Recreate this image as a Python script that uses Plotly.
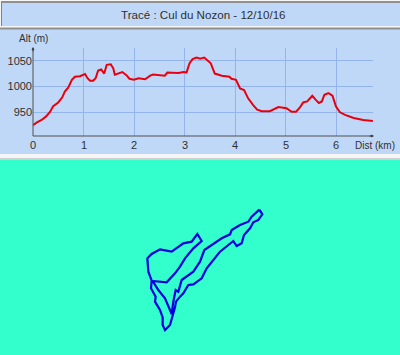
import plotly.graph_objects as go

W, H = 400, 355
dist_km = [0,.07,.17,.26,.34,.40,.50,.58,.63,.70,.77,.83,.93,1.03,1.08,1.13,1.19,1.24,1.29,1.35,1.41,1.46,1.54,1.59,1.62,1.69,1.77,1.85,1.91,2.0,2.09,2.22,2.28,2.32,2.38,2.61,2.66,2.88,2.98,3.04,3.10,3.16,3.24,3.31,3.39,3.45,3.52,3.60,3.74,3.89,3.93,4.02,4.10,4.18,4.26,4.36,4.44,4.53,4.69,4.86,5.02,5.12,5.21,5.29,5.35,5.43,5.53,5.60,5.66,5.72,5.77,5.85,5.93,6.0,6.08,6.18,6.35,6.54,6.73]
alt_m = [925,930,935,942,951,962,969,979,990,998,1013,1019,1020,1024,1016,1011,1011,1016,1031,1033,1025,1042,1043,1035,1023,1025,1028,1022,1015,1013,1016,1014,1019,1021,1023,1021,1027,1026,1028,1027,1045,1053,1056,1054,1056,1050,1045,1025,1021,1019,1015,1013,996,993,977,964,955,952,952,960,958,951,951,960,969,971,982,974,968,971,984,987,982,961,950,945,939,935,933]
track_x = [388,397,385,370,360,342,335,320,310,290,270,250,230,215,190,175,160,150,138,135,127,120,105,98,98,90,75,77,63,65,55,52,65,90,125,160,185,202,215,190,165,150,135,110,68,85,105,120,125,130,137,145,155,190,210,223,245,275,300,305,330,355,365,388]
track_y = [29,43,60,67,85,105,130,138,123,140,155,180,205,235,253,255,280,290,305,322,352,375,390,375,352,330,305,290,265,242,215,175,162,148,155,130,125,102,123,145,175,200,220,247,243,270,295,330,342,305,270,275,240,215,185,150,135,115,103,90,75,65,50,29]
title = "Tracé : Cul du Nozon - 12/10/16"
x_ticks = [0,1,2,3,4,5,6]
y_ticks = [950,1000,1050]

def py(v):
    return 1 - v / H
def px(v):
    return v / W
def rect(x0, y0, x1, y1, fill):
    return dict(type="rect", xref="paper", yref="paper", x0=px(x0), x1=px(x1), y0=py(y1), y1=py(y0),
                fillcolor=fill, line=dict(width=0), layer="below")
def seg(x0, y0, x1, y1, color, width=1):
    return dict(type="line", xref="paper", yref="paper", x0=px(x0), x1=px(x1), y0=py(y0), y1=py(y1), line=dict(color=color, width=width))

fig = go.Figure()
fig.add_trace(go.Scatter(x=dist_km, y=alt_m, mode="lines", line=dict(color="#e8000c", width=2), xaxis="x", yaxis="y", hoverinfo="skip"))
fig.add_trace(go.Scatter(x=track_x, y=track_y, mode="lines", line=dict(color="#0000e0", width=2.2), xaxis="x2", yaxis="y2", hoverinfo="skip"))

font = dict(family="Liberation Sans, Arial, sans-serif", size=11, color="#303030")
small = dict(family=font["family"], size=10, color="#303030")
def arrow(x, y, ax, ay):
    return dict(text="", xref="paper", yref="paper", x=px(x), y=py(y), ax=ax, ay=ay, showarrow=True,
                arrowhead=2, arrowsize=0.6, arrowwidth=1, arrowcolor="#404040")
fig.update_layout(
    width=W, height=H, margin=dict(l=0, r=0, t=0, b=0), autosize=False, showlegend=False,
    paper_bgcolor="#f6f6f6", plot_bgcolor="rgba(0,0,0,0)", font=font,
    xaxis=dict(domain=[px(33), px(373)], range=[0, 340/50.5], tickvals=x_ticks[1:], ticks="", showgrid=True,
               gridcolor="#94b4ec", gridwidth=1, zeroline=False, showline=False, showticklabels=False, anchor="y"),
    yaxis=dict(domain=[py(136), py(48)], range=[904, 1074.6], tickvals=y_ticks, ticks="", showgrid=True,
               gridcolor="#94b4ec", gridwidth=1, zeroline=False, showline=False, tickfont=font, anchor="x"),
    xaxis2=dict(domain=[px(130), px(270)], range=[0,420], visible=False, anchor="y2"),
    yaxis2=dict(domain=[py(340), py(200)], range=[420,0], visible=False, anchor="x2"),
    shapes=[
        rect(1, 3, 400, 26, "#c0d8f8"),
        rect(0, 29, 400, 154, "#c0d8f8"),
        rect(0, 160, 400, 355, "#33ffcc"),
        seg(1, 2, 400, 2, "#909090", 2),
        seg(1.5, 2, 1.5, 26, "#808080"),
        seg(0, 28.5, 400, 28.5, "#909090", 2),
        seg(0, 159, 400, 159, "#a8a8a8"),
        seg(33, 136, 33, 48, "#505050"),
        seg(33, 136, 373, 136, "#505050"),
    ],
    annotations=[
        dict(text=title, xref="paper", yref="paper", x=px(203.5), y=py(15), showarrow=False, font=dict(family=font["family"], size=11.6, color="#303030"), xanchor="center", yanchor="middle"),
        dict(text="Alt (m)", xref="paper", yref="paper", x=px(33), y=py(39), showarrow=False, font=small, xanchor="center", yanchor="middle"),
        dict(text="Dist (km)", xref="paper", yref="paper", x=px(374.5), y=py(145), showarrow=False, font=small, xanchor="center", yanchor="middle"),
        arrow(33, 47, 0, 6),
        arrow(374, 136, -6, 0),
    ] + [
        dict(text=str(k), xref="x", yref="paper", x=k, y=py(145), showarrow=False, font=font, xanchor="center", yanchor="middle")
        for k in x_ticks
    ],
)
fig.write_html("out.html", config=dict(displayModeBar=False), post_script="document.body.style.margin='0';")
